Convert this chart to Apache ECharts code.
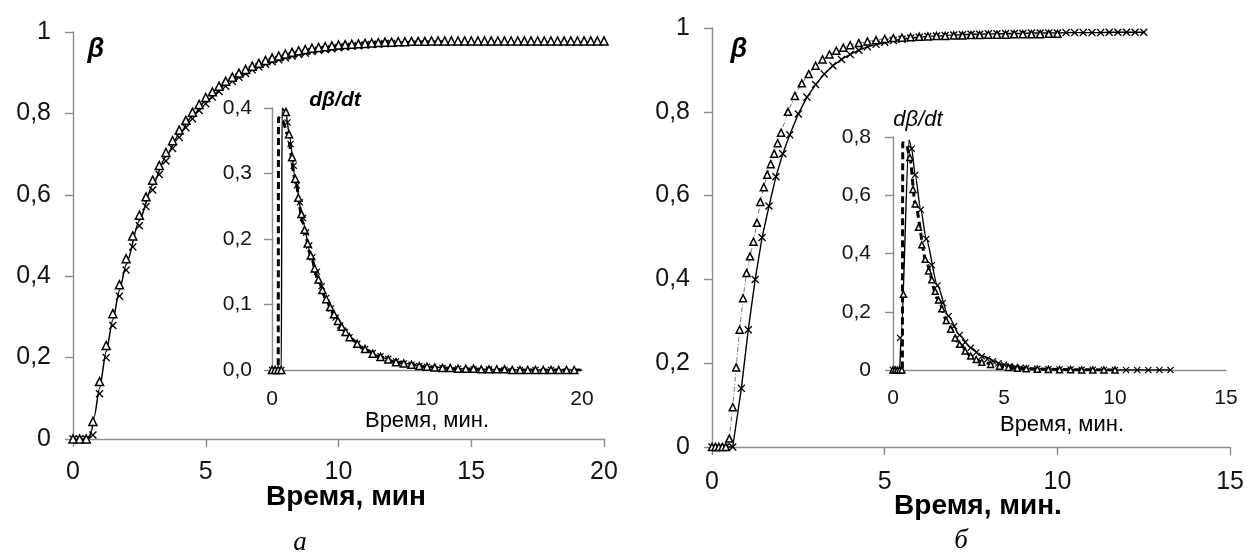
<!DOCTYPE html>
<html>
<head>
<meta charset="utf-8">
<script src="https://cdn.jsdelivr.net/npm/echarts@6/dist/echarts.min.js"></script>
<style>
  html, body { margin: 0; padding: 0; background: #fff; }
  #chart { width: 1247px; height: 554px; }
</style>
</head>
<body>
<div id="chart"></div>
<script>
// ---------- (а) conversion degree β vs time, experiment A ----------
const tMainA = [0,0.25,0.5,0.75,1,1.25,1.5,1.75,2,2.25,2.5,2.75,3,3.25,3.5,3.75,4,4.25,4.5,4.75,5,5.25,5.5,5.75,6,6.25,6.5,6.75,7,7.25,7.5,7.75,8,8.25,8.5,8.75,9,9.25,9.5,9.75,10,10.25,10.5,10.75,11,11.25,11.5,11.75,12,12.25,12.5,12.75,13,13.25,13.5,13.75,14,14.25,14.5,14.75,15,15.25,15.5,15.75,16,16.25,16.5,16.75,17,17.25,17.5,17.75,18,18.25,18.5,18.75,19,19.25,19.5,19.75,20];
const betaTriA = [0,0,0,0.043,0.141,0.230,0.308,0.379,0.443,0.499,0.550,0.595,0.636,0.672,0.704,0.733,0.759,0.783,0.803,0.822,0.839,0.853,0.867,0.879,0.889,0.899,0.908,0.916,0.923,0.930,0.936,0.941,0.946,0.950,0.954,0.957,0.960,0.962,0.964,0.966,0.968,0.969,0.970,0.971,0.972,0.973,0.974,0.975,0.975,0.976,0.976,0.977,0.977,0.977,0.978,0.978,0.978,0.978,0.978,0.978,0.978,0.978,0.978,0.978,0.978,0.978,0.978,0.978,0.978,0.978,0.978,0.978,0.978,0.978,0.978,0.978,0.978,0.978,0.978,0.978,0.978];
const tCrossA = [0,0.25,0.5,0.75,1,1.25,1.5,1.75,2,2.25,2.5,2.75,3,3.25,3.5,3.75,4,4.25,4.5,4.75,5,5.25,5.5,5.75,6,6.25,6.5,6.75,7,7.25,7.5,7.75,8,8.25,8.5,8.75,9,9.25,9.5,9.75,10,10.25,10.5,10.75,11,11.25,11.5,11.75,12];
const betaCrossA = [0,0,0,0.01,0.111,0.200,0.279,0.351,0.415,0.472,0.524,0.571,0.612,0.650,0.683,0.714,0.741,0.765,0.787,0.807,0.824,0.840,0.854,0.867,0.879,0.889,0.898,0.907,0.914,0.921,0.927,0.932,0.937,0.941,0.945,0.948,0.952,0.955,0.957,0.959,0.961,0.963,0.965,0.966,0.968,0.969,0.970,0.971,0.972];
const tModelA = [0,0.6,0.7,0.8,1,1.25,1.5,1.75,2,2.5,3,3.5,4,4.5,5,6,7,8,9,10,11,12,13,14];
const betaModelA = [0,0,0.02,0.055,0.125,0.215,0.293,0.365,0.428,0.537,0.624,0.694,0.749,0.794,0.831,0.884,0.918,0.942,0.957,0.966,0.972,0.975,0.977,0.978];

// inset (а): rate dβ/dt
const tRateTriA = [0,0.2,0.4,0.6,0.9,1.1,1.3,1.5,1.7,1.9,2.1,2.3,2.5,2.75,3,3.25,3.5,3.75,4,4.25,4.5,4.75,5,5.5,6,6.5,7,7.5,8,8.5,9,9.5,10,10.5,11,11.5,12,12.5,13,13.5,14,14.5,15,15.5,16,16.5,17,17.5,18,18.5,19,19.5];
const rateTriA = [0,0,0,0,0.394,0.360,0.325,0.292,0.263,0.238,0.214,0.193,0.175,0.155,0.138,0.122,0.108,0.096,0.085,0.075,0.066,0.058,0.050,0.040,0.032,0.025,0.020,0.016,0.012,0.010,0.008,0.006,0.005,0.004,0.003,0.003,0.002,0.002,0.002,0.001,0.001,0.001,0.001,0,0,0,0,0,0,0,0,0];
const tRateCrossA = [0,0.2,0.4,0.6,1.0,1.2,1.4,1.6,1.8,2.0,2.2,2.4,2.6,2.9,3.2,3.5,3.8,4.1,4.4,4.7,5.0,5.5,6,6.5,7,7.5,8,8.5,9,9.5,10,11,12,13,14,15,16,17,18];
const rateCrossA = [0,0,0,0,0.378,0.345,0.312,0.282,0.256,0.232,0.210,0.190,0.172,0.150,0.128,0.110,0.094,0.080,0.068,0.058,0.050,0.040,0.032,0.026,0.021,0.017,0.013,0.010,0.008,0.006,0.005,0.003,0.002,0.001,0.001,0,0,0,0];
const tRateSolidA = [0,0.6,0.65,0.9,1.1,1.5,2,2.5,3,3.5,4,5,6,7,8,10,12,14,16,18,20];
const rateSolidA = [0,0,0.400,0.392,0.362,0.292,0.226,0.176,0.138,0.108,0.085,0.050,0.032,0.020,0.012,0.005,0.002,0.001,0,0,0];
const tRateDashA = [0,0.4,0.42,0.7,1.0,1.5,2,2.5,3,3.5,4,5,6,7,8,10,12,14,16,18,20];
const rateDashA = [0,0,0.385,0.380,0.360,0.290,0.224,0.174,0.136,0.107,0.084,0.049,0.031,0.020,0.012,0.005,0.002,0.001,0,0,0];

// ---------- (б) conversion degree β vs time, experiment B ----------
const tTriB = [0,0.1,0.2,0.3,0.4,0.5,0.6,0.7,0.8,0.9,1.0,1.1,1.2,1.3,1.4,1.5,1.6,1.7,1.8,1.9,2.0,2.2,2.4,2.6,2.8,3.0,3.2,3.4,3.6,3.8,4.0,4.25,4.5,4.75,5.0,5.25,5.5,5.75,6.0,6.25,6.5,6.75,7.0,7.25,7.5,7.75,8.0,8.25,8.5,8.75,9.0,9.25,9.5,9.75,10.0];
const betaTriB = [0,0,0,0,0,0.02,0.095,0.19,0.28,0.355,0.415,0.455,0.49,0.535,0.585,0.62,0.65,0.675,0.70,0.725,0.75,0.80,0.838,0.868,0.89,0.91,0.925,0.937,0.946,0.953,0.959,0.964,0.968,0.971,0.974,0.976,0.977,0.978,0.979,0.980,0.981,0.981,0.982,0.982,0.983,0.983,0.984,0.984,0.984,0.985,0.985,0.985,0.985,0.986,0.986];
const tCrossB = [0,0.2,0.4,0.6,0.85,1.05,1.25,1.45,1.65,1.85,2.05,2.25,2.5,2.75,3.0,3.25,3.5,3.75,4.0,4.25,4.5,4.75,5.0,5.25,5.5,5.75,6.0,6.25,6.5,6.75,7.0,7.25,7.5,7.75,8.0,8.25,8.5,8.75,9.0,9.25,9.5,9.75,10.0,10.25,10.5,10.75,11.0,11.25,11.5,11.75,12.0,12.25,12.5];
const betaCrossB = [0,0,0,0,0.14,0.28,0.40,0.50,0.575,0.645,0.70,0.745,0.795,0.835,0.865,0.89,0.91,0.925,0.937,0.947,0.955,0.961,0.966,0.970,0.973,0.976,0.978,0.980,0.981,0.982,0.983,0.984,0.985,0.985,0.986,0.986,0.987,0.987,0.987,0.988,0.988,0.988,0.988,0.989,0.989,0.989,0.989,0.989,0.99,0.99,0.99,0.99,0.99];

// inset (б): rate dβ/dt
const tRateTriB = [0,0.1,0.2,0.3,0.4,0.47,0.76,0.9,1.0,1.15,1.3,1.45,1.6,1.75,1.9,2.05,2.2,2.4,2.6,2.8,3.0,3.25,3.5,3.75,4.0,4.4,4.8,5.2,5.6,6.0,6.5,7.0,7.5,8.0,8.5,9.0,9.5,10.0];
const rateTriB = [0,0,0,0,0,0.26,0.73,0.62,0.57,0.49,0.43,0.38,0.34,0.31,0.27,0.24,0.21,0.17,0.14,0.11,0.088,0.065,0.048,0.036,0.027,0.019,0.013,0.009,0.006,0.004,0.003,0.002,0.001,0.001,0,0,0,0];
const tRateCrossB = [0,0.1,0.2,0.32,0.84,1.0,1.25,1.5,1.75,2.0,2.25,2.5,2.75,3.0,3.25,3.5,3.75,4.0,4.25,4.5,4.75,5.0,5.25,5.5,5.75,6.0,6.5,7.0,7.5,8.0,8.5,9.0,9.5,10.0,10.5,11.0,11.5,12.0,12.5];
const rateCrossB = [0,0,0,0.11,0.76,0.67,0.55,0.45,0.36,0.29,0.23,0.185,0.15,0.12,0.095,0.076,0.06,0.047,0.037,0.03,0.023,0.018,0.013,0.01,0.008,0.006,0.004,0.003,0.002,0.002,0.001,0.001,0,0,0,0,0,0,0];
const tRateSolidB = [0,0.3,0.36,0.72,0.84,1.0,1.25,1.5,2.0,2.5,3.0,3.5,4.0,5.0,6.0,8.0,10.0,12.5];
const rateSolidB = [0,0,0.11,0.79,0.76,0.67,0.55,0.45,0.29,0.185,0.12,0.077,0.048,0.018,0.006,0.001,0,0];
const tRateDashB = [0,0.42,0.44,0.62,0.76,1.0,1.5,2.0,2.5,3.0,3.5,4.0,5.0,6.0,8.0,10.0];
const rateDashB = [0,0,0.78,0.77,0.73,0.57,0.37,0.245,0.155,0.09,0.048,0.027,0.01,0.004,0.001,0];

// ---------- axis texts ----------
const mainTimeTitleA = 'Время, мин';
const mainTimeTitleB = 'Время, мин.';
const insetTimeTitle = 'Время, мин.';

const SANS = "'Liberation Sans', Arial, sans-serif";
const SERIF = "'Liberation Serif', 'Times New Roman', serif";
const AXIS_GRAY = '#8c8c8c';
const INK = '#141414';
const CROSS = 'path://M0,1.2L1.2,0L5,3.8L8.8,0L10,1.2L6.2,5L10,8.8L8.8,10L5,6.2L1.2,10L0,8.8L3.8,5Z';

const pairs = (ts, vs) => ts.map((t, i) => [t, vs[i]]);
const comma = v => String(Math.round(v * 10) / 10).replace('.', ',');
const comma1 = v => (Math.round(v * 10) / 10).toFixed(1).replace('.', ',');

function xAxis(grid, max, interval, fontSize, margin, ticks) {
  return {
    type: 'value', gridIndex: grid, min: 0, max: max, interval: interval,
    splitLine: { show: false },
    axisLine: { show: true, onZero: false, lineStyle: { color: AXIS_GRAY, width: 1.4 } },
    axisTick: { show: ticks, inside: false, length: 8, lineStyle: { color: AXIS_GRAY, width: 1.4 } },
    axisLabel: { fontFamily: SANS, fontSize: fontSize, color: INK, margin: margin }
  };
}
function yAxis(grid, max, interval, fontSize, margin, fmt) {
  return {
    type: 'value', gridIndex: grid, min: 0, max: max, interval: interval,
    splitLine: { show: false },
    axisLine: { show: true, onZero: false, lineStyle: { color: AXIS_GRAY, width: 1.4 } },
    axisTick: { show: true, inside: false, length: 8, lineStyle: { color: AXIS_GRAY, width: 1.4 } },
    axisLabel: { fontFamily: SANS, fontSize: fontSize, color: INK, margin: margin, formatter: fmt }
  };
}

function lineSeries(axis, ts, vs, style, z) {
  return {
    type: 'line', xAxisIndex: axis, yAxisIndex: axis, data: pairs(ts, vs),
    symbol: 'none', smooth: 0.25, smoothMonotone: 'x', z: z || 2,
    lineStyle: style
  };
}
function triSeries(axis, ts, vs, size, lineStyle) {
  return {
    type: 'line', xAxisIndex: axis, yAxisIndex: axis, data: pairs(ts, vs),
    symbol: 'triangle', symbolSize: size, showSymbol: true, showAllSymbol: true, z: 4,
    itemStyle: { color: '#fff', borderColor: '#000', borderWidth: 1.5 },
    lineStyle: lineStyle || { width: 0, opacity: 0 }
  };
}
function crossSeries(axis, ts, vs, size, lineStyle) {
  return {
    type: 'line', xAxisIndex: axis, yAxisIndex: axis, data: pairs(ts, vs),
    symbol: CROSS, symbolSize: size, showSymbol: true, showAllSymbol: true, z: 3,
    itemStyle: { color: '#000', borderWidth: 0 },
    lineStyle: lineStyle || { width: 0, opacity: 0 }
  };
}

function label(x, y, text, font) {
  return {
    type: 'text', x: x, y: y, z: 10,
    style: Object.assign({ text: text, fill: '#000', align: 'center', verticalAlign: 'middle', fontFamily: SANS }, font)
  };
}

const chart = echarts.init(document.getElementById('chart'), null, { renderer: 'canvas' });
chart.setOption({
  animation: false,
  backgroundColor: '#fff',
  grid: [
    { left: 73, top: 32, width: 531, height: 407 },
    { left: 272, top: 108, width: 310, height: 262 },
    { left: 712, top: 28, width: 520, height: 419 },
    { left: 893, top: 137, width: 333, height: 233 }
  ],
  xAxis: [
    xAxis(0, 20, 5, 25, 21, true),
    xAxis(1, 20, 10, 21, 19, false),
    xAxis(2, 15, 5, 25, 23, true),
    xAxis(3, 15, 5, 21, 18, false)
  ],
  yAxis: [
    yAxis(0, 1, 0.2, 25, 22, comma),
    yAxis(1, 0.4, 0.1, 21, 20, comma1),
    yAxis(2, 1, 0.2, 25, 22, comma),
    yAxis(3, 0.8, 0.2, 21, 22, comma)
  ],
  series: [
    // (а) main
    lineSeries(0, tModelA, betaModelA, { color: '#000', width: 1.5 }),
    crossSeries(0, tCrossA, betaCrossA, 8),
    triSeries(0, tMainA, betaTriA, 8),
    // (а) inset
    lineSeries(1, tRateDashA, rateDashA, { color: '#000', width: 3, type: [7, 4] }),
    lineSeries(1, tRateSolidA, rateSolidA, { color: '#000', width: 1.4 }),
    crossSeries(1, tRateCrossA, rateCrossA, 7),
    triSeries(1, tRateTriA, rateTriA, 7),
    // (б) main
    crossSeries(2, tCrossB, betaCrossB, 8, { color: '#000', width: 1.4 }),
    triSeries(2, tTriB, betaTriB, 7, { color: '#777', width: 1, type: [5, 2, 1, 2] }),
    // (б) inset
    lineSeries(3, tRateDashB, rateDashB, { color: '#000', width: 3, type: [7, 4] }),
    lineSeries(3, tRateSolidB, rateSolidB, { color: '#000', width: 1.4 }),
    crossSeries(3, tRateCrossB, rateCrossB, 7),
    triSeries(3, tRateTriB, rateTriB, 6)
  ],
  graphic: [
    label(96, 50, 'β', { fontSize: 27, fontWeight: 'bold', fontStyle: 'italic' }),
    label(335, 100, 'dβ/dt', { fontSize: 21, fontWeight: 'bold', fontStyle: 'italic' }),
    label(346, 497, mainTimeTitleA, { fontSize: 28, fontWeight: 'bold' }),
    label(427, 421, insetTimeTitle, { fontSize: 22 }),
    label(300, 543, 'а', { fontFamily: SERIF, fontSize: 27, fontStyle: 'italic' }),
    label(739, 50, 'β', { fontSize: 27, fontWeight: 'bold', fontStyle: 'italic' }),
    label(918, 120, 'dβ/dt', { fontSize: 22, fontStyle: 'italic' }),
    label(978, 506, mainTimeTitleB, { fontSize: 28, fontWeight: 'bold' }),
    label(1062, 425, insetTimeTitle, { fontSize: 22 }),
    label(961, 541, 'б', { fontFamily: SERIF, fontSize: 27, fontStyle: 'italic' })
  ]
});
</script>
</body>
</html>
